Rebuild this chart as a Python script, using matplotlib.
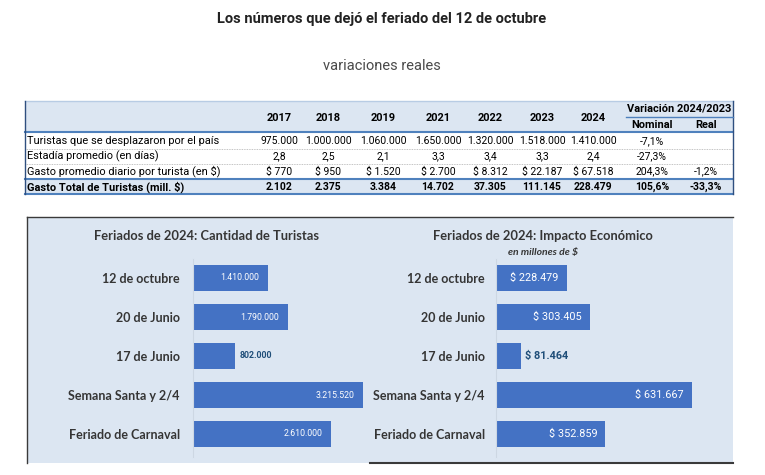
import matplotlib
matplotlib.use("Agg")
import matplotlib.pyplot as plt
from matplotlib.patches import Rectangle

# ---------------- data ----------------
years = ["2017", "2018", "2019", "2021", "2022", "2023", "2024"]
row_labels = ["Turistas que se desplazaron por el país",
              "Estadía promedio (en días)",
              "Gasto promedio diario por turista (en $)",
              "Gasto Total de Turistas (mill. $)"]
turistas = [975000, 1000000, 1060000, 1650000, 1320000, 1518000, 1410000]
estadia = [2.8, 2.5, 2.1, 3.3, 3.4, 3.3, 2.4]
gasto_diario = [770, 950, 1520, 2700, 8312, 22187, 67518]
gasto_total = [2102, 2375, 3384, 14702, 37305, 111145, 228479]
var_nominal = [-7.1, -27.3, 204.3, 105.6]
var_real = [None, None, -1.2, -33.3]

feriados = ["12 de octubre", "20 de Junio", "17 de Junio",
            "Semana Santa y 2/4", "Feriado de Carnaval"]
turistas_feriado = [1410000, 1790000, 802000, 3215520, 2610000]
impacto_feriado = [228479, 303405, 81464, 631667, 352859]

title = "Los números que dejó el feriado del 12 de octubre"
subtitle = "variaciones reales"
title_left = "Feriados de 2024: Cantidad de Turistas"
title_right = "Feriados de 2024: Impacto Económico"
subtitle_right = "en millones de $"


def fmt_int(v):
    return f"{v:,.0f}".replace(",", ".")


def fmt_dec(v):
    return f"{v:.1f}".replace(".", ",")


def fmt_pct(v):
    return "" if v is None else f"{v:.1f}%".replace(".", ",")


# ---------------- figure ----------------
W, H = 765, 475
fig = plt.figure(figsize=(W / 100, H / 100), dpi=100)
fig.patch.set_facecolor("white")
bg = fig.add_axes([0, 0, 1, 1])
bg.set_xlim(0, W)
bg.set_ylim(H, 0)
bg.axis("off")


def px_axes(x0, y0, x1, y1):
    return fig.add_axes([x0 / W, 1 - y1 / H, (x1 - x0) / W, (y1 - y0) / H])


TF = "Roboto"
bg.text(382, 19, title, ha="center", va="center", fontsize=10.5,
        fontweight="bold", color="#222222", family=TF)
bg.text(382, 66, subtitle, ha="center", va="center", fontsize=10.5,
        fontweight="normal", color="#4a4a4a", family=TF)

# ---------------- table ----------------
LB = "#dce6f2"
BL = "#4f81bd"
tx0, tx1 = 25, 733
ty0, thead, ttot, ty1 = 101, 132, 179, 194
bg.add_patch(Rectangle((tx0, ty0), tx1 - tx0, thead - ty0, color=LB, lw=0))
bg.add_patch(Rectangle((tx0, ttot), tx1 - tx0, ty1 - ttot, color=LB, lw=0))
bg.plot([tx0, tx1], [thead, thead], color=BL, lw=1.5)
bg.plot([tx0, tx1], [ttot, ttot], color=BL, lw=1.5)
bg.plot([tx0, tx1], [ty1, ty1], color=BL, lw=1.5)
bg.plot([tx0, tx1], [ty0, ty0], color="#b8cce4", lw=1)
for yy in (149, 164):
    bg.plot([tx0, tx1], [yy, yy], color="#b0b0b0", lw=0.6, ls=(0, (1, 1)))
bg.plot([tx0, tx0], [ty0, ty1], color="#2f4f7f", lw=1)
bg.plot([tx1, tx1], [ty0, ty1], color="#2f4f7f", lw=1)
bg.plot([626, tx1], [117, 117], color=BL, lw=1)

col_x = [279, 328, 383, 438, 490, 542, 593]
nom_x, real_x = 652, 706
FS = 7.9
FV = 7.5
for x, yv in zip(col_x, years):
    bg.text(x, 118, yv, ha="center", va="center", fontsize=FS,
            fontweight="bold", family=TF)
bg.text(679, 109, "Variación 2024/2023", ha="center", va="center",
        fontsize=FS, fontweight="bold", family=TF)
bg.text(nom_x, 125, "Nominal", ha="center", va="center", fontsize=FS,
        fontweight="bold", family=TF)
bg.text(real_x, 125, "Real", ha="center", va="center", fontsize=FS,
        fontweight="bold", family=TF)

rows_y = [141, 156.5, 171.5, 187]
rows = [[fmt_int(v) for v in turistas],
        [fmt_dec(v) for v in estadia],
        ["$ " + fmt_int(v) for v in gasto_diario],
        [fmt_int(v) for v in gasto_total]]
for i, (lab, vals, y) in enumerate(zip(row_labels, rows, rows_y)):
    wt = "bold" if i == 3 else "normal"
    bg.text(27, y, lab, ha="left", va="center", fontsize=FS,
            fontweight=wt, family=TF)
    for x, v in zip(col_x, vals):
        bg.text(x, y, v, ha="center", va="center", fontsize=FV,
                fontweight=wt, family=TF)
    bg.text(nom_x, y, fmt_pct(var_nominal[i]), ha="center", va="center",
            fontsize=FV, fontweight=wt, family=TF)
    bg.text(real_x, y, fmt_pct(var_real[i]), ha="center", va="center",
            fontsize=FV, fontweight=wt, family=TF)

# ---------------- chart panel ----------------
px0, py0, px1, py1 = 27, 217, 733, 463
bg.add_patch(Rectangle((px0, py0), px1 - px0, py1 - py0, color=LB, lw=0))
bg.plot([px0, px1], [py0, py0], color="#3a3a3a", lw=1)
bg.plot([px0, px0], [py0, py1], color="#3a3a3a", lw=1)
bg.plot([370, px1], [py1, py1], color="#3a3a3a", lw=1.5)

CF = "Lato"
CC = "#353535"
bg.text(207, 236, title_left, ha="center", va="center", fontsize=9.3,
        fontweight="bold", color=CC, family=CF)
bg.text(543, 236, title_right, ha="center", va="center", fontsize=9.3,
        fontweight="bold", color=CC, family=CF)
bg.text(543, 252, subtitle_right, ha="center", va="center", fontsize=7.5,
        fontweight="bold", style="italic", color=CC, family=CF)

BAR = "#4472c4"
DARK = "#1f4e79"


def bar_panel(ax, values, xmax, labels, inside_fs, pad):
    ax.set_facecolor("none")
    ypos = list(range(len(values)))
    ax.barh(ypos, values, height=0.69, color=BAR)
    ax.set_xlim(0, xmax)
    ax.set_ylim(len(values) - 0.5, -0.5)
    ax.set_yticks(ypos, feriados)
    ax.tick_params(axis="y", length=0, pad=pad, labelsize=9,
                   labelcolor=CC)
    for t in ax.get_yticklabels():
        t.set_fontweight("bold")
        t.set_family(CF)
    ax.set_xticks([])
    for s in ("top", "right", "bottom"):
        ax.spines[s].set_visible(False)
    ax.spines["left"].set_color("#cdd7e3")
    ax.spines["left"].set_linewidth(0.8)
    ax.spines["left"].set_bounds(-0.5, len(values) - 0.4)
    for y, v, lab in zip(ypos, values, labels):
        if v < 0.25 * xmax:
            ax.annotate(lab, (v, y), xytext=(3, 0), textcoords="offset points",
                        ha="left", va="center", fontsize=inside_fs,
                        fontweight="bold", color=DARK, family=TF)
        else:
            ax.annotate(lab, (v, y), xytext=(-6, 0), textcoords="offset points",
                        ha="right", va="center", fontsize=inside_fs,
                        color="white", family=TF)


axL = px_axes(193, 258.5, 375, 453.5)
bar_panel(axL, turistas_feriado, 182 / 52.9e-6,
          [fmt_int(v) for v in turistas_feriado], 6.3, 9.4)

axR = px_axes(496, 258.5, 730, 453.5)
bar_panel(axR, impacto_feriado, 234 / 0.3103e-3,
          ["$ " + fmt_int(v) for v in impacto_feriado], 7.8, 8)

fig.savefig("out.png", dpi=100)
